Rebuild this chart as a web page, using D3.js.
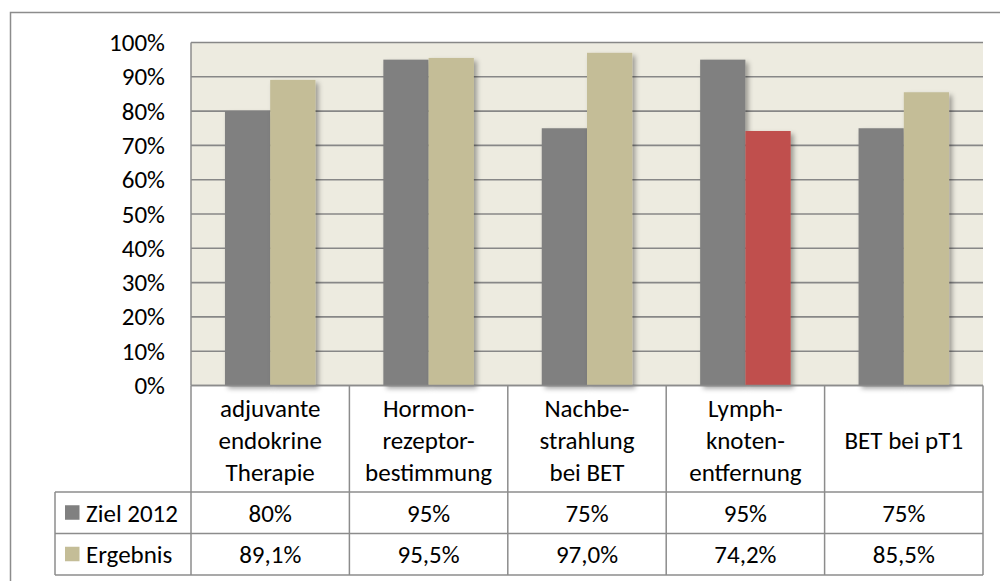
<!DOCTYPE html>
<html>
<head>
<meta charset="utf-8">
<script src="https://cdn.jsdelivr.net/npm/d3@7/dist/d3.min.js"></script>
<style>
  body { margin: 0; background: #fff; }
  svg { display: block; font-family: Calibri, Carlito, Lato, sans-serif; }
</style>
</head>
<body>
<div id="chart"></div>
<script>
// data
const categories = [
    "adjuvante\nendokrine\nTherapie",
    "Hormon-\nrezeptor-\nbestimmung",
    "Nachbe-\nstrahlung\nbei BET",
    "Lymph-\nknoten-\nentfernung",
    "BET bei pT1"
];
const seriesNames = ["Ziel 2012", "Ergebnis"];
const ziel = [0.80, 0.95, 0.75, 0.95, 0.75];
const ergebnis = [0.891, 0.955, 0.970, 0.742, 0.855];
const zielLabels = ["80%", "95%", "75%", "95%", "75%"];
const ergebnisLabels = ["89,1%", "95,5%", "97,0%", "74,2%", "85,5%"];
const yTicks = [0, 0.1, 0.2, 0.3, 0.4, 0.5, 0.6, 0.7, 0.8, 0.9, 1.0];

const width = 1000, height = 581;
const plot = { left: 191, right: 983, top: 42.5, bottom: 385.5 };
const headerBottom = 492;
const rowH = 41.5;
const legendLeft = 55;
const fontSize = 25;

const colors = { ziel: "#808080", erg: "#c4bd97", bad: "#c0504d", grid: "#878787", bg: "#edebe0", border: "#8c8c8c" };

const svg = d3.select("#chart").append("svg")
    .attr("width", width)
    .attr("height", height);

// shadow for the bars
const defs = svg.append("defs");
const f = defs.append("filter").attr("id", "shadow")
    .attr("x", "-20%").attr("y", "-20%").attr("width", "150%").attr("height", "150%");
f.append("feDropShadow").attr("dx", 3).attr("dy", 3).attr("stdDeviation", 2.5)
    .attr("flood-color", "#000").attr("flood-opacity", 0.35);

// outer frame (only top and left show)
svg.append("path")
    .attr("d", `M10.5,${height + 2}V12.5H${width + 2}`)
    .attr("fill", "none").attr("stroke", colors.border).attr("stroke-width", 1.5);

const x = d3.scaleBand()
    .domain(d3.range(categories.length))
    .range([plot.left, plot.right]);

const barW = x.bandwidth() / 3.5;

const y = d3.scaleLinear().domain([0, 1]).range([plot.bottom, plot.top]);

// plot background
svg.append("rect")
    .attr("x", plot.left).attr("y", plot.top)
    .attr("width", plot.right - plot.left).attr("height", plot.bottom - plot.top)
    .attr("fill", colors.bg);

// gridlines
svg.append("g").selectAll("line")
    .data(yTicks)
    .join("line")
    .attr("x1", plot.left).attr("x2", plot.right)
    .attr("y1", d => y(d)).attr("y2", d => y(d))
    .attr("stroke", colors.grid).attr("stroke-width", 1.6);

// y axis labels
const yAxis = svg.append("g")
    .attr("transform", `translate(${plot.left},0)`)
    .call(d3.axisLeft(y).tickValues(yTicks).tickFormat(d3.format(".0%")).tickSize(0).tickPadding(26));
yAxis.attr("font-family", null).attr("font-size", fontSize);
yAxis.select(".domain").remove();
yAxis.selectAll("text").attr("fill", "#000");

// bars
const bars = svg.append("g");
bars.selectAll(".ziel")
    .data(ziel)
    .join("rect")
    .attr("class", "ziel")
    .attr("x", (d, i) => x(i) + barW * 0.75)
    .attr("y", d => y(d))
    .attr("width", barW)
    .attr("height", d => y(0) - y(d))
    .attr("fill", colors.ziel)
    .attr("filter", "url(#shadow)");
bars.selectAll(".erg")
    .data(ergebnis)
    .join("rect")
    .attr("class", "erg")
    .attr("x", (d, i) => x(i) + barW * 1.75)
    .attr("y", d => y(d))
    .attr("width", barW)
    .attr("height", d => y(0) - y(d))
    .attr("fill", (d, i) => d < ziel[i] ? colors.bad : colors.erg)
    .attr("filter", "url(#shadow)");

// y axis line
svg.append("line")
    .attr("x1", plot.left).attr("x2", plot.left)
    .attr("y1", plot.top).attr("y2", plot.bottom)
    .attr("stroke", colors.border).attr("stroke-width", 1.5);

// data table
const table = svg.append("g")
    .attr("fill", "none").attr("stroke", colors.border).attr("stroke-width", 1.5);

const tableBottom = headerBottom + 2 * rowH;
// vertical lines
x.domain().concat([categories.length]).forEach(i => {
    const xx = i < categories.length ? x(i) : plot.right;
    table.append("line")
        .attr("x1", xx).attr("x2", xx)
        .attr("y1", plot.bottom).attr("y2", tableBottom);
});
table.append("line").attr("x1", legendLeft).attr("x2", legendLeft)
    .attr("y1", headerBottom).attr("y2", tableBottom);
// horizontal lines
table.append("line").attr("x1", plot.left).attr("x2", plot.right)
    .attr("y1", plot.bottom).attr("y2", plot.bottom);
[0, 1, 2].forEach(r => {
    table.append("line").attr("x1", legendLeft).attr("x2", plot.right)
        .attr("y1", headerBottom + r * rowH).attr("y2", headerBottom + r * rowH);
});

// header text
const lineH = 32;
const headerMid = (plot.bottom + headerBottom) / 2 + 1.5;
categories.forEach((c, i) => {
    const lines = c.split("\n");
    const t = svg.append("text")
        .attr("text-anchor", "middle")
        .attr("font-size", fontSize)
        .attr("fill", "#000");
    lines.forEach((ln, k) => {
        t.append("tspan")
            .attr("x", x(i) + x.bandwidth() / 2)
            .attr("y", headerMid + (k - (lines.length - 1) / 2) * lineH)
            .attr("dy", "0.35em")
            .text(ln);
    });
});

// value rows
[zielLabels, ergebnisLabels].forEach((labels, r) => {
    const cy = headerBottom + r * rowH + rowH / 2;
    svg.append("g").selectAll("text")
        .data(labels)
        .join("text")
        .attr("x", (d, i) => x(i) + x.bandwidth() / 2)
        .attr("y", cy)
        .attr("dy", "0.35em")
        .attr("text-anchor", "middle")
        .attr("font-size", fontSize)
        .attr("fill", "#000")
        .text(d => d);
    // legend key
    svg.append("rect")
        .attr("x", 65).attr("y", cy - 7.5)
        .attr("width", 14.5).attr("height", 14.5)
        .attr("fill", r === 0 ? colors.ziel : colors.erg);
    svg.append("text")
        .attr("x", 86).attr("y", cy)
        .attr("dy", "0.35em")
        .attr("font-size", fontSize)
        .attr("fill", "#000")
        .text(seriesNames[r]);
});
</script>
</body>
</html>
